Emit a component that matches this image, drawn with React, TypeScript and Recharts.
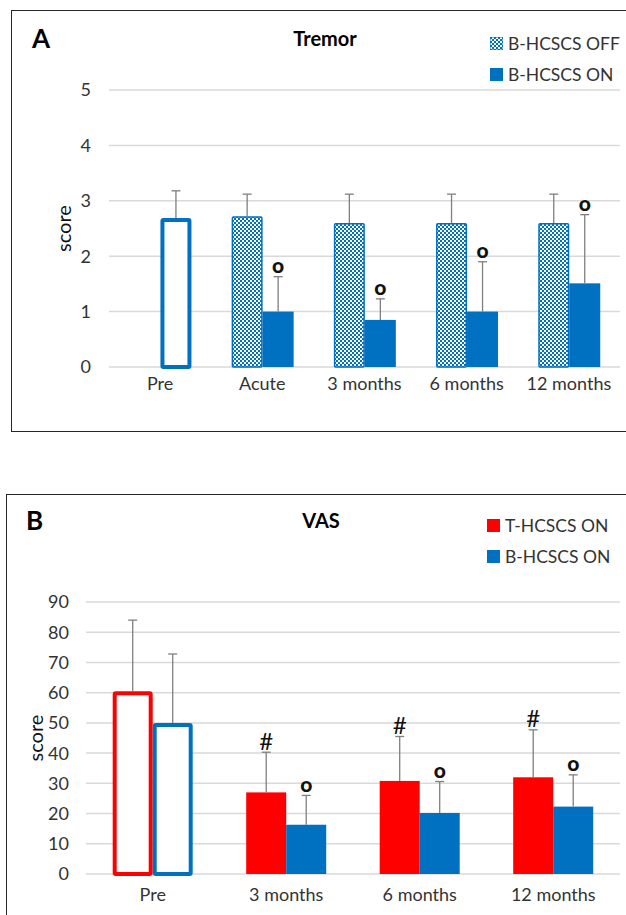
import { Bar, BarChart, CartesianGrid, Legend, XAxis, YAxis } from "recharts";

// Panel A – Tremor
const tremorCategories = ["Pre", "Acute", "3 months", "6 months", "12 months"];
const tremorOff = [null, 2.72, 2.6, 2.6, 2.6];
const tremorOffSd = [null, 0.4, 0.52, 0.52, 0.52];
const tremorOffMarks = ["", "", "", "", ""];
const tremorOn = [2.69, 1.0, 0.85, 1.0, 1.51];
const tremorOnSd = [0.49, 0.63, 0.38, 0.9, 1.24];
const tremorOnMarks = ["", "o", "o", "o", "o"];
const tremorTicks = [0, 1, 2, 3, 4, 5];

// Panel B – VAS
const vasCategories = ["Pre", "3 months", "6 months", "12 months"];
const vasT = [60.5, 27, 30.8, 32];
const vasTSd = [23.5, 13.3, 14.7, 15.7];
const vasTMarks = ["", "#", "#", "#"];
const vasB = [50, 16.3, 20.2, 22.3];
const vasBSd = [22.8, 9.7, 10.4, 10.5];
const vasBMarks = ["", "o", "o", "o"];
const vasTicks = [0, 10, 20, 30, 40, 50, 60, 70, 80, 90];

const BLUE = "#0070C0";
const RED = "#FF0000";
const FONT = "Lato, 'Open Sans', sans-serif";
const TEXT = "#333";

const tremorData = tremorCategories.map((name, i) => ({
  name,
  off: tremorOff[i],
  on: tremorOn[i],
}));

const vasData = vasCategories.map((name, i) => ({
  name,
  t: vasT[i],
  b: vasB[i],
}));

// bar + one-sided error bar + significance mark
const makeShape =
  (
    key: string,
    color: string,
    cats: string[],
    sds: (number | null)[],
    marks: string[],
    kind: "solid" | "pattern"
  ) =>
  (props: any) => {
    const { x, y, width, height, payload } = props;
    const v = payload[key];
    if (v == null || !height) return <g />;
    const i = cats.indexOf(payload.name);
    const sd = sds[i] ?? 0;
    const pxPer = height / v;
    const errTop = y - sd * pxPer;
    const cx = x + width / 2;
    const hollow = payload.name === "Pre";
    const sw = 4;
    const mark = marks[i];
    return (
      <g>
        {hollow ? (
          <rect
            x={x + sw / 2}
            y={y + sw / 2}
            width={width - sw}
            height={height - sw / 2}
            fill="#fff"
            stroke={color}
            strokeWidth={sw}
            rx={1}
          />
        ) : kind === "pattern" ? (
          <rect
            x={x + 0.75}
            y={y + 0.75}
            width={width - 1.5}
            height={height - 0.75}
            fill="url(#checker)"
            stroke={color}
            strokeWidth={1.5}
            rx={1}
          />
        ) : (
          <rect x={x} y={y} width={width} height={height} fill={color} />
        )}
        <line x1={cx} x2={cx} y1={y} y2={errTop} stroke="#7f7f7f" strokeWidth={1.3} />
        <line x1={cx - 4.5} x2={cx + 4.5} y1={errTop} y2={errTop} stroke="#7f7f7f" strokeWidth={1.3} />
        {mark && (
          <text
            x={cx}
            y={errTop - 12}
            textAnchor="middle"
            dominantBaseline="central"
            fontFamily={FONT}
            fontWeight={mark === "o" ? 900 : 400}
            fontSize={mark === "o" ? 21 : 24}
            fill="#111"
          >
            {mark}
          </text>
        )}
      </g>
    );
  };

const ScoreLabel = ({ viewBox, x0 }: any) => {
  const cy = viewBox.y + viewBox.height / 2;
  return (
    <text
      x={x0}
      y={cy}
      transform={`rotate(-90 ${x0} ${cy})`}
      textAnchor="middle"
      dominantBaseline="central"
      fontFamily={FONT}
      fontSize={20}
      fill="#111"
    >
      score
    </text>
  );
};

const LegendBox = ({ items }: { items: { label: string; fill: string }[] }) => (
  <div style={{ fontFamily: FONT, fontSize: 17.5, color: TEXT }}>
    {items.map((it) => (
      <div key={it.label} style={{ display: "flex", alignItems: "center", height: 31 }}>
        <svg width={13} height={13} style={{ marginRight: 5 }}>
          <rect x={0} y={0} width={13} height={13} fill={it.fill} stroke={it.fill.startsWith("url") ? BLUE : "none"} />
        </svg>
        <span>{it.label}</span>
      </div>
    ))}
  </div>
);

const tickStyle = { fontSize: 18, fill: TEXT, fontFamily: FONT };

const App = () => {
  return (
    <div
      style={{
        position: "absolute",
        left: 0,
        top: 0,
        width: 626,
        height: 915,
        background: "#fff",
        overflow: "hidden",
        fontFamily: FONT,
      }}
    >
      <svg width={0} height={0} style={{ position: "absolute" }}>
        <defs>
          <pattern id="checker" patternUnits="userSpaceOnUse" width={4} height={4}>
            <rect width={4} height={4} fill="#fff" />
            <rect x={0} y={0} width={2} height={2} fill={BLUE} />
            <rect x={2} y={2} width={2} height={2} fill={BLUE} />
          </pattern>
        </defs>
      </svg>

      {/* panel frames */}
      <div
        style={{
          position: "absolute",
          left: 11,
          top: 10,
          width: 640,
          height: 420,
          border: "1.5px solid #262626",
        }}
      />
      <div
        style={{
          position: "absolute",
          left: 6,
          top: 494,
          width: 650,
          height: 460,
          border: "1.5px solid #262626",
        }}
      />

      {/* Panel A */}
      <div style={{ position: "absolute", left: 0, top: 0 }}>
        <BarChart
          width={626}
          height={430}
          data={tremorData}
          margin={{ top: 90, right: 6, left: 0, bottom: 33 }}
          barCategoryGap="20%"
          barGap={0}
        >
          <CartesianGrid vertical={false} stroke="#d9d9d9" strokeWidth={1.5} />
          <XAxis
            dataKey="name"
            height={30}
            axisLine={false}
            tickLine={false}
            tickSize={0}
            tickMargin={10}
            tick={tickStyle}
            interval={0}
          />
          <YAxis
            width={109}
            domain={[0, 5]}
            ticks={tremorTicks}
            axisLine={false}
            tickLine={false}
            tickSize={0}
            tickMargin={18}
            tick={tickStyle}
            label={<ScoreLabel x0={63} />}
          />
          <Legend
            layout="vertical"
            align="center"
            verticalAlign="middle"
            wrapperStyle={{ left: 490, top: 28, width: 140, height: 64 }}
            content={() => (
              <LegendBox
                items={[
                  { label: "B-HCSCS OFF", fill: "url(#checker)" },
                  { label: "B-HCSCS ON", fill: BLUE },
                ]}
              />
            )}
          />
          <Bar
            dataKey="off"
            isAnimationActive={false}
            shape={makeShape("off", BLUE, tremorCategories, tremorOffSd, tremorOffMarks, "pattern")}
          />
          <Bar
            dataKey="on"
            isAnimationActive={false}
            shape={makeShape("on", BLUE, tremorCategories, tremorOnSd, tremorOnMarks, "solid")}
          />
        </BarChart>
        <div
          style={{ position: "absolute", left: 32, top: 22, fontSize: 26, fontWeight: 700, color: "#000" }}
        >
          A
        </div>
        <div
          style={{
            position: "absolute",
            left: 225,
            width: 200,
            top: 26,
            textAlign: "center",
            fontSize: 20,
            fontWeight: 700,
            color: "#000",
          }}
        >
          Tremor
        </div>
      </div>

      {/* Panel B */}
      <div style={{ position: "absolute", left: 0, top: 480 }}>
        <BarChart
          width={626}
          height={435}
          data={vasData}
          margin={{ top: 122, right: 6, left: 0, bottom: 11 }}
          barCategoryGap="20%"
          barGap={0}
        >
          <CartesianGrid vertical={false} stroke="#d9d9d9" strokeWidth={1.5} />
          <XAxis
            dataKey="name"
            height={30}
            axisLine={false}
            tickLine={false}
            tickSize={0}
            tickMargin={14}
            tick={tickStyle}
            interval={0}
          />
          <YAxis
            width={86}
            domain={[0, 90]}
            ticks={vasTicks}
            axisLine={false}
            tickLine={false}
            tickSize={0}
            tickMargin={17}
            tick={tickStyle}
            label={<ScoreLabel x0={35} />}
          />
          <Legend
            layout="vertical"
            align="center"
            verticalAlign="middle"
            wrapperStyle={{ left: 487, top: 30, width: 140, height: 64 }}
            content={() => (
              <LegendBox
                items={[
                  { label: "T-HCSCS ON", fill: RED },
                  { label: "B-HCSCS ON", fill: BLUE },
                ]}
              />
            )}
          />
          <Bar
            dataKey="t"
            isAnimationActive={false}
            shape={makeShape("t", RED, vasCategories, vasTSd, vasTMarks, "solid")}
          />
          <Bar
            dataKey="b"
            isAnimationActive={false}
            shape={makeShape("b", BLUE, vasCategories, vasBSd, vasBMarks, "solid")}
          />
        </BarChart>
        <div
          style={{ position: "absolute", left: 26, top: 24, fontSize: 26, fontWeight: 700, color: "#000" }}
        >
          B
        </div>
        <div
          style={{
            position: "absolute",
            left: 221,
            width: 200,
            top: 28,
            textAlign: "center",
            fontSize: 20,
            fontWeight: 700,
            color: "#000",
          }}
        >
          VAS
        </div>
      </div>
    </div>
  );
};

export default App;
